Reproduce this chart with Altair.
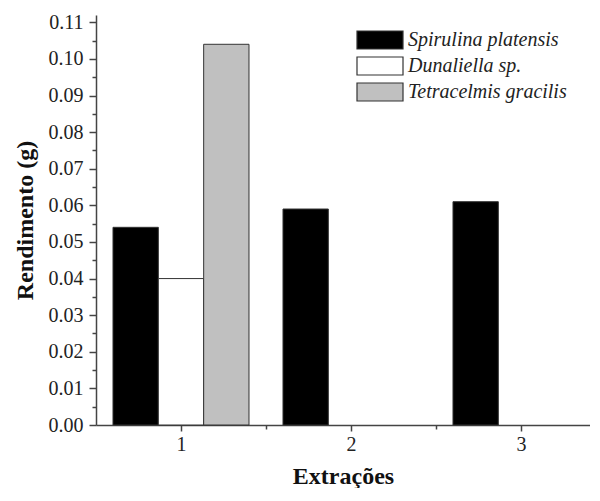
import altair as alt
import pandas as pd

species = ["Spirulina platensis", "Dunaliella sp.", "Tetracelmis gracilis"]
colors = ["#000000", "#ffffff", "#c0c0c0"]
extracoes = [1, 2, 3]
spirulina = [0.054, 0.059, 0.061]
dunaliella = [0.040, None, None]
tetracelmis = [0.104, None, None]

y_ticks = [round(i * 0.005, 3) for i in range(23)]
x_ticks = [1, 1.5, 2, 2.5, 3]

rows = []
for sp, vals in zip(species, [spirulina, dunaliella, tetracelmis]):
    for e, v in zip(extracoes, vals):
        if v is not None:
            rows.append({"extracao": e, "especie": sp, "rendimento": v})
df = pd.DataFrame(rows)

FONT = "Liberation Serif"
species_js = "[" + ",".join("'" + s + "'" for s in species) + "]"
minor_y = "abs(datum.value*100 - round(datum.value*100)) > 0.01"

bars = alt.Chart(df).transform_calculate(
    idx=f"indexof({species_js}, datum.especie)"
).transform_calculate(
    x0="datum.extracao - 0.4 + datum.idx * 0.8 / 3",
    x1="datum.extracao - 0.4 + (datum.idx + 1) * 0.8 / 3",
).mark_bar(stroke="#333333", strokeWidth=1).encode(
    x=alt.X(
        "x0:Q",
        scale=alt.Scale(domain=[0.5, 3.406], nice=False, zero=False),
        axis=alt.Axis(
            title="Extrações",
            values=x_ticks,
            labelExpr="datum.value % 1 == 0 ? format(datum.value, 'd') : ''",
            tickSize={"condition": {"test": "datum.value % 1 != 0", "value": 4}, "value": 6},
            labelPadding=3,
            titlePadding=10,
            grid=False,
            labelFlush=False,
            labelOverlap=False,
        ),
    ),
    x2="x1:Q",
    y=alt.Y(
        "rendimento:Q",
        scale=alt.Scale(domain=[0, 0.112], nice=False),
        axis=alt.Axis(
            title="Rendimento (g)",
            values=y_ticks,
            labelExpr=f"{minor_y} ? '' : format(datum.value, '.2f')",
            tickSize={"condition": {"test": minor_y, "value": 4}, "value": 7},
            labelPadding=6,
            titlePadding=11,
            grid=False,
            labelFlush=False,
            labelOverlap=False,
        ),
    ),
    y2=alt.datum(0),
    fill=alt.Fill(
        "especie:N",
        scale=alt.Scale(domain=species, range=colors),
        legend=alt.Legend(
            title=None,
            orient="none",
            legendX=274,
            legendY=15,
            symbolType="M-2.556,-1H2.556V1H-2.556Z",
            symbolSize=324,
            symbolStrokeColor="#333333",
            symbolStrokeWidth=1.2,
            labelFont=FONT,
            labelFontStyle="italic",
            labelFontSize=20,
            labelColor="#222222",
            labelOffset=18,
            rowPadding=2,
        ),
    ),
).properties(
    width=494,
    height=410,
    padding={"left": 5, "top": 4, "right": 0, "bottom": 0},
).configure_view(
    stroke=None
).configure_axis(
    domainColor="#444444",
    domainWidth=1.5,
    tickColor="#444444",
    tickWidth=1.5,
    labelFont=FONT,
    labelFontSize=20,
    labelColor="#222222",
    titleFont=FONT,
    titleFontSize=24,
    titleFontWeight="bold",
    titleColor="#111111",
)

chart = bars
chart.save("out.html", embed_options={"renderer": "svg", "actions": False})
